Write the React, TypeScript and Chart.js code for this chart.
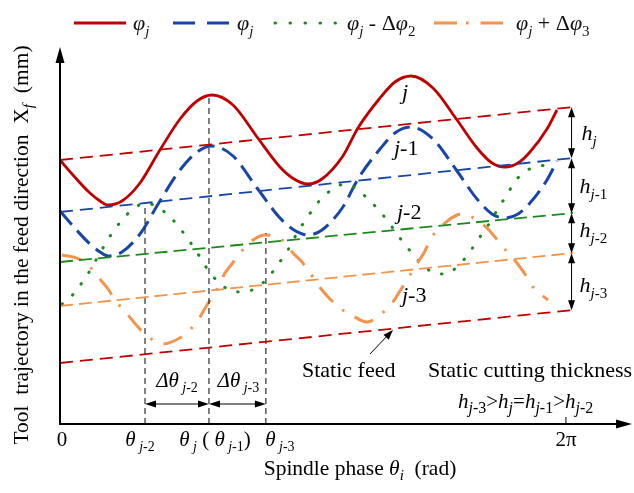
import React, { useEffect, useRef } from 'react';
import { Chart, registerables } from 'chart.js';

Chart.register(...registerables);

// ---- data (x: spindle phase in degrees, 360 = 2π; y: tool position, arbitrary mm units) ----
const phaseJ = [0, 9.2, 21.3, 28.5, 34.2, 44.1, 56.9, 71.1, 85.4, 97.5, 108.1, 123.1, 140.2, 156.5, 166.5, 176.4, 186.4, 201.3, 212.0, 227.7, 238.3, 249.7, 265.4, 282.5, 296.7, 307.4, 316.6, 325.9, 334.4, 346.5, 353.6];
const curveJ = [264, 249, 231, 223, 219, 223, 241, 274, 305, 323, 329, 319, 287, 257, 245, 240, 245, 268, 296, 326, 342, 348, 336, 304, 276, 261, 257, 261, 272, 295, 314];
const curveJ1 = [213, 198, 180, 172, 168, 172, 190, 223, 254, 272, 278, 268, 236, 206, 194, 189, 194, 217, 245, 275, 291, 297, 285, 253, 225, 210, 206, 210, 221, 244, 263];

const phaseJ2 = [1.4, 6.4, 12.8, 18.5, 23.5, 28.5, 33.4, 39.1, 44.8, 51.9, 61.2, 70.4, 78.3, 84.7, 90.4, 96.0, 101.7, 106.7, 113.8, 121.7, 131.6, 140.2, 148.0, 153.7, 159.4, 165.1, 169.3, 175.0, 180.0, 186.4, 194.2, 202.8, 212.0, 219.1, 226.2, 232.6, 244.0, 250.4, 256.8, 264.7, 273.9, 282.5, 288.9, 294.5, 300.2, 306.6, 312.3, 318.0, 323.0, 329.4, 337.9, 347.2];
const curveJ2 = [120, 125, 136, 147, 159, 171, 183, 195, 205, 215, 221, 216, 207, 197, 186, 175, 162, 151, 141, 133, 132, 137, 146, 157, 168, 181, 193, 204, 215, 226, 235, 240, 234, 225, 215, 204, 182, 171, 161, 152, 150, 157, 167, 178, 190, 203, 217, 229, 241, 251, 257, 259];

const phaseJ3 = [1.4, 13.5, 21.3, 27.7, 34.2, 39.1, 48.4, 54.8, 61.2, 73.3, 82.5, 91.1, 99.6, 104.6, 110.3, 117.4, 121.7, 127.4, 137.3, 145.9, 157.9, 165.8, 172.2, 177.9, 186.4, 192.1, 199.2, 208.5, 218.4, 227.7, 236.9, 241.9, 246.9, 254.7, 259.7, 263.2, 273.9, 282.5, 286.0, 291.7, 303.8, 309.5, 315.2, 325.1, 330.8, 336.5, 347.2];
const curveJ3 = [169, 165, 157, 146, 135, 124, 109, 98, 89, 80, 84, 92, 107, 119, 131, 151, 159, 170, 184, 189, 184, 171, 162, 151, 134, 125, 116, 108, 102, 109, 122, 133, 144, 162, 173, 184, 201, 209, 210, 208, 196, 187, 177, 161, 150, 137, 124];

// static feed / static tool paths of each tooth (straight lines)
const staticPhase = [0, 365];
const staticJ = [264, 317];
const staticJ1 = [212, 266];
const staticJ2 = [162, 211];
const staticJ3 = [118, 171];
const staticFeed = [61, 114];

// phase marks θj-2, θj, θj-3 and the height of their guide lines
const thetaPhase = [60.5, 106, 146.5];
const thetaTop = [221, 328, 191];
const xTickValues = [0, 360];
const xTickLabels = ['0', '2π'];
const dimLevel = 20; // level of the Δθ dimension arrows
const hPhase = 364; // phase where the static cutting thickness is measured

const X_MAX = 407;
const Y_MAX = 377;

const RED = '#c00000';
const BLUE = '#1846a8';
const GREEN = '#1b8a1b';
const ORANGE = '#f4944c';
const SERIF = '"Liberation Serif", "Times New Roman", serif';

type Part = [string, string];

function rich(ctx: CanvasRenderingContext2D, parts: Part[], x: number, y: number, size: number, align: 'left' | 'center' | 'right' = 'left', subRatio = 0.68) {
  const sub = Math.round(size * subRatio);
  const font = (st: string) => `${st.startsWith('i') ? 'italic ' : ''}${st.endsWith('s') ? sub : size}px ${SERIF}`;
  let w = 0;
  for (const [t, st] of parts) {
    ctx.font = font(st);
    w += ctx.measureText(t).width;
  }
  let cx = align === 'center' ? x - w / 2 : align === 'right' ? x - w : x;
  ctx.textAlign = 'left';
  ctx.textBaseline = 'alphabetic';
  for (const [t, st] of parts) {
    ctx.font = font(st);
    ctx.fillText(t, cx, st.endsWith('s') ? y + size * 0.25 : y);
    cx += ctx.measureText(t).width;
  }
}

function arrowHead(ctx: CanvasRenderingContext2D, tx: number, ty: number, dx: number, dy: number, len: number, half: number) {
  const n = Math.hypot(dx, dy);
  const ux = dx / n, uy = dy / n;
  const bx = tx - ux * len, by = ty - uy * len;
  ctx.beginPath();
  ctx.moveTo(tx, ty);
  ctx.lineTo(bx - uy * half, by + ux * half);
  ctx.lineTo(bx + uy * half, by - ux * half);
  ctx.closePath();
  ctx.fill();
}

function interp(xs: number[], ys: number[], v: number) {
  const t = (v - xs[0]) / (xs[1] - xs[0]);
  return ys[0] + t * (ys[1] - ys[0]);
}

const pts = (xs: number[], ys: number[]) => xs.map((x, i) => ({ x, y: ys[i] }));

const overlay = {
  id: 'overlay',
  afterDraw(chart: any) {
    const ctx: CanvasRenderingContext2D = chart.ctx;
    const xs = chart.scales.x;
    const ys = chart.scales.y;
    const X = (v: number) => xs.getPixelForValue(v);
    const Y = (v: number) => ys.getPixelForValue(v);
    ctx.save();
    ctx.fillStyle = '#000';
    ctx.strokeStyle = '#000';

    // axes
    const ox = X(0), oy = Y(0);
    const top = Y(Y_MAX), right = X(X_MAX);
    ctx.lineWidth = 2;
    ctx.setLineDash([]);
    ctx.beginPath();
    ctx.moveTo(ox, oy + 1);
    ctx.lineTo(ox, top + 10);
    ctx.moveTo(ox - 1, oy);
    ctx.lineTo(right - 10, oy);
    ctx.stroke();
    arrowHead(ctx, ox, top, 0, -1, 16, 4.5);
    arrowHead(ctx, right, oy, 1, 0, 16, 4.5);
    ctx.lineWidth = 1;
    ctx.beginPath();
    ctx.moveTo(X(360), oy);
    ctx.lineTo(X(360), oy - 7);
    ctx.stroke();

    // tick labels
    const tickBase = oy + 22;
    rich(ctx, [[xTickLabels[0], 'r']], X(xTickValues[0]) + 2, tickBase, 21, 'center');
    rich(ctx, [[xTickLabels[1], 'r']], X(xTickValues[1]), tickBase, 21, 'center');
    rich(ctx, [['θ', 'i'], [' j', 'is'], ['-2', 'rs']], X(thetaPhase[0]) - 5, tickBase, 21, 'center');
    rich(ctx, [['θ', 'i'], [' j', 'is'], [' ( ', 'r'], ['θ', 'i'], [' j', 'is'], ['-1', 'rs'], [')', 'r']], X(thetaPhase[1]) + 6, tickBase, 21, 'center');
    rich(ctx, [['θ', 'i'], [' j', 'is'], ['-3', 'rs']], X(thetaPhase[2]) + 14, tickBase, 21, 'center');

    // axis titles
    rich(ctx, [['Spindle phase ', 'r'], ['θ', 'i'], ['i', 'is'], ['  (rad)', 'r']], 360, 475, 21.5, 'center');
    ctx.save();
    ctx.translate(28, 245);
    ctx.rotate(-Math.PI / 2);
    rich(ctx, [['Tool  trajectory in the feed direction  X', 'r'], ['f', 'is'], ['  (mm)', 'r']], 0, 0, 21.5, 'center');
    ctx.restore();

    // Δθ dimension arrows
    const dy = Y(dimLevel);
    ctx.lineWidth = 1;
    for (let k = 0; k < 2; k++) {
      const a = X(thetaPhase[k === 0 ? 0 : 1]);
      const b = X(thetaPhase[k === 0 ? 1 : 2]);
      ctx.beginPath();
      ctx.moveTo(a + 6, dy);
      ctx.lineTo(b - 6, dy);
      ctx.stroke();
      arrowHead(ctx, a, dy, -1, 0, 11, 3.5);
      arrowHead(ctx, b, dy, 1, 0, 11, 3.5);
    }
    rich(ctx, [['Δ', 'i'], ['θ', 'i'], [' j', 'is'], ['-2', 'rs']], (X(thetaPhase[0]) + X(thetaPhase[1])) / 2, 387, 21, 'center');
    rich(ctx, [['Δ', 'i'], ['θ', 'i'], [' j', 'is'], ['-3', 'rs']], (X(thetaPhase[1]) + X(thetaPhase[2])) / 2 + 1, 387, 21, 'center');

    // static cutting thickness arrows h
    const hx = X(hPhase);
    const levels = [staticJ, staticJ1, staticJ2, staticJ3, staticFeed].map((s) => Y(interp(staticPhase, s, hPhase)));
    for (let k = 0; k < 4; k++) {
      const a = levels[k], b = levels[k + 1];
      ctx.beginPath();
      ctx.moveTo(hx, a + 6);
      ctx.lineTo(hx, b - 6);
      ctx.stroke();
      arrowHead(ctx, hx, a, 0, -1, 10, 3.5);
      arrowHead(ctx, hx, b, 0, 1, 10, 3.5);
    }
    rich(ctx, [['h', 'i'], ['j', 'is']], hx + 10, 140, 22);
    rich(ctx, [['h', 'i'], ['j', 'is'], ['-1', 'rs']], hx + 8, 193, 22);
    rich(ctx, [['h', 'i'], ['j', 'is'], ['-2', 'rs']], hx + 8, 237, 22);
    rich(ctx, [['h', 'i'], ['j', 'is'], ['-3', 'rs']], hx + 8, 292, 22);

    // curve labels
    rich(ctx, [['j', 'i']], 402, 99, 22);
    rich(ctx, [['j', 'i'], ['-1', 'r']], 394, 155, 22);
    rich(ctx, [['j', 'i'], ['-2', 'r']], 397, 219, 22);
    rich(ctx, [['j', 'i'], ['-3', 'r']], 402, 302, 22);

    // static feed annotation
    ctx.lineWidth = 1;
    ctx.beginPath();
    ctx.moveTo(370, 354);
    ctx.lineTo(389, 334);
    ctx.stroke();
    arrowHead(ctx, 393, 330, 1, -1.05, 10, 3.5);
    rich(ctx, [['Static feed', 'r']], 302, 377, 22);
    rich(ctx, [['Static cutting thickness', 'r']], 428, 377, 22);
    rich(ctx, [['h', 'i'], ['j', 'is'], ['-3', 'rs'], ['>', 'r'], ['h', 'i'], ['j', 'is'], ['=', 'r'], ['h', 'i'], ['j', 'is'], ['-1', 'rs'], ['>', 'r'], ['h', 'i'], ['j', 'is'], ['-2', 'rs']], 458, 408, 21, 'left', 0.76);

    // legend
    const ly = 23;
    ctx.lineCap = 'butt';
    ctx.lineWidth = 3;
    ctx.strokeStyle = RED;
    ctx.beginPath(); ctx.moveTo(74, ly); ctx.lineTo(126, ly); ctx.stroke();
    ctx.strokeStyle = BLUE;
    ctx.setLineDash([22, 12]);
    ctx.beginPath(); ctx.moveTo(173, ly); ctx.lineTo(229, ly); ctx.stroke();
    ctx.strokeStyle = GREEN;
    ctx.lineCap = 'round';
    ctx.setLineDash([0.5, 14.5]);
    ctx.beginPath(); ctx.moveTo(275, ly); ctx.lineTo(336, ly); ctx.stroke();
    ctx.lineCap = 'butt';
    ctx.strokeStyle = ORANGE;
    ctx.setLineDash([23, 9, 2.5, 12]);
    ctx.beginPath(); ctx.moveTo(434, ly); ctx.lineTo(503, ly); ctx.stroke();
    ctx.setLineDash([]);
    ctx.fillStyle = '#111';
    rich(ctx, [['φ', 'i'], ['j', 'is']], 133, 30, 22);
    rich(ctx, [['φ', 'i'], ['j', 'is']], 237, 30, 22);
    rich(ctx, [['φ', 'i'], ['j', 'is'], [' - Δ', 'r'], ['φ', 'i'], ['2', 'rs']], 347, 30, 22);
    rich(ctx, [['φ', 'i'], ['j', 'is'], [' + Δ', 'r'], ['φ', 'i'], ['3', 'rs']], 516, 30, 22);

    ctx.restore();
  },
};

export default function App() {
  const ref = useRef<HTMLCanvasElement>(null);
  useEffect(() => {
    if (!ref.current) return;
    const lineDs = (label: string, xs: number[], yv: number[], color: string, width: number, dash: number[], extra: any = {}) => ({
      label,
      data: pts(xs, yv),
      showLine: true,
      borderColor: color,
      backgroundColor: color,
      borderWidth: width,
      borderDash: dash,
      pointRadius: 0,
      pointHoverRadius: 0,
      fill: false,
      ...extra,
    });
    const smooth = { cubicInterpolationMode: 'monotone', tension: 0.4 };
    const guides = thetaPhase.map((p, i) =>
      lineDs('guide' + i, [p, p], [0, thetaTop[i]], '#1a1a1a', 1.1, [6, 4])
    );
    const chart = new Chart(ref.current, {
      type: 'scatter',
      data: {
        datasets: [
          lineDs('static j', staticPhase, staticJ, RED, 1.8, [13, 7]),
          lineDs('static j-1', staticPhase, staticJ1, BLUE, 1.8, [13, 7]),
          lineDs('static j-2', staticPhase, staticJ2, GREEN, 1.8, [13, 6]),
          lineDs('static j-3', staticPhase, staticJ3, ORANGE, 1.8, [13, 6]),
          lineDs('static feed', staticPhase, staticFeed, RED, 1.8, [13, 7]),
          ...guides,
          lineDs('φj-3', phaseJ3, curveJ3, ORANGE, 3, [20, 12, 2.5, 12], smooth),
          lineDs('φj-2', phaseJ2, curveJ2, GREEN, 3, [0.5, 13.5], { ...smooth, borderCapStyle: 'round' }),
          lineDs('φj-1', phaseJ, curveJ1, BLUE, 3, [18, 8], smooth),
          lineDs('φj', phaseJ, curveJ, RED, 2.8, [], smooth),
        ] as any,
      },
      options: {
        animation: false,
        responsive: false,
        devicePixelRatio: 1,
        layout: { padding: { left: 60, right: 2, top: 47, bottom: 69 } },
        scales: {
          x: { type: 'linear', min: 0, max: X_MAX, display: false },
          y: { type: 'linear', min: 0, max: Y_MAX, display: false },
        },
        plugins: { legend: { display: false }, tooltip: { enabled: false }, title: { display: false } },
        events: [],
      } as any,
      plugins: [overlay],
    });
    return () => chart.destroy();
  }, []);
  return (
    <div style={{ position: 'fixed', left: 0, top: 0, width: 634, height: 493, background: '#fff' }}>
      <canvas ref={ref} width={634} height={493} style={{ width: 634, height: 493, display: 'block' }} />
    </div>
  );
}
